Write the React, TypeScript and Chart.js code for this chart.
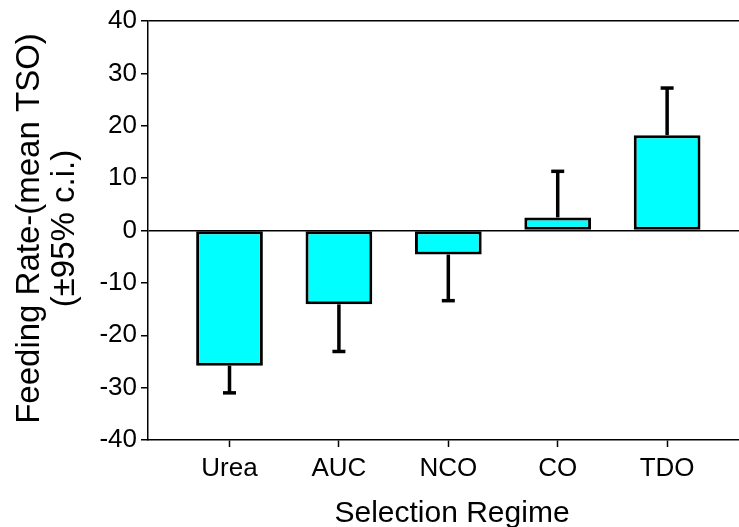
import React, { useEffect, useRef } from "react";
import { Chart, registerables } from "chart.js";

Chart.register(...registerables);

const categories = ["Urea", "AUC", "NCO", "CO", "TDO"];
const meanValues = [-25.8, -14.1, -4.6, 2.5, 18.2];
const ciEnds = [-31.0, -23.1, -13.4, 11.3, 27.2];
const yMin = -40;
const yMax = 40;
const yStep = 10;
const xTitle = "Selection Regime";
const yTitleLines = ["Feeding Rate-(mean TSO)", "(\u00b195% c.i.)"];

const FONT = '"Liberation Sans", Arial, sans-serif';

const errorBarPlugin = {
  id: "errorBars",
  afterDatasetsDraw(chart: any) {
    const meta = chart.getDatasetMeta(0);
    const ys = chart.scales.y;
    const ctx = chart.ctx;
    ctx.save();
    ctx.strokeStyle = "#000";
    ctx.lineWidth = 3.5;
    ctx.lineCap = "butt";
    meta.data.forEach((el: any, i: number) => {
      const x = el.x;
      const y0 = ys.getPixelForValue(meanValues[i]);
      const y1 = ys.getPixelForValue(ciEnds[i]);
      ctx.beginPath();
      ctx.moveTo(x, y0);
      ctx.lineTo(x, y1);
      ctx.stroke();
      ctx.beginPath();
      ctx.moveTo(x - 6.5, y1);
      ctx.lineTo(x + 6.5, y1);
      ctx.stroke();
    });
    ctx.restore();
  },
};

const titlesPlugin = {
  id: "titles",
  afterDraw(chart: any) {
    const ctx = chart.ctx;
    ctx.save();
    ctx.fillStyle = "#000";
    ctx.font = `30px ${FONT}`;
    ctx.textAlign = "center";
    ctx.textBaseline = "alphabetic";
    ctx.fillText(xTitle, 452, 522);
    const cy = (chart.chartArea.top + chart.chartArea.bottom) / 2;
    ctx.font = `33px ${FONT}`;
    const baselines = [39, 74];
    yTitleLines.forEach((t, i) => {
      ctx.save();
      ctx.translate(baselines[i], cy - 2);
      ctx.rotate(-Math.PI / 2);
      ctx.fillText(t, 0, 0);
      ctx.restore();
    });
    ctx.restore();
  },
};

export default function App() {
  const ref = useRef<HTMLCanvasElement | null>(null);
  useEffect(() => {
    if (!ref.current) return;
    const chart = new Chart(ref.current, {
      type: "bar",
      data: {
        datasets: [
          {
            data: meanValues.map((v, i) => ({ x: i + 1, y: v })),
            backgroundColor: "#00FFFF",
            borderColor: "#000",
            borderWidth: 3,
            borderSkipped: false,
            barPercentage: 0.61,
            categoryPercentage: 1,
          },
        ],
      },
      options: {
        animation: false,
        responsive: false,
        layout: { padding: { top: 21, right: 0, left: 0, bottom: 0 } },
        plugins: { legend: { display: false }, tooltip: { enabled: false } },
        scales: {
          x: {
            type: "linear",
            offset: false,
            min: 0.255,
            max: 5.657,
            afterBuildTicks: (scale: any) => {
              scale.ticks = categories.map((_, i) => ({ value: i + 1 }));
            },
            afterFit: (scale: any) => {
              scale.height = 87;
            },
            ticks: {
              autoSkip: false,
              maxRotation: 0,
              color: "#000",
              font: { family: FONT, size: 26 },
              padding: 6,
              callback: (v: any) => categories[Math.round(v) - 1] ?? "",
            },
            grid: {
              offset: false,
              drawOnChartArea: false,
              drawTicks: true,
              tickLength: 7,
              tickColor: "#000",
              tickWidth: 1.5,
            },
            border: { display: true, color: "#000", width: 1.5 },
          },
          y: {
            min: yMin,
            max: yMax,
            afterFit: (scale: any) => {
              scale.width = 148;
            },
            ticks: {
              stepSize: yStep,
              color: "#000",
              font: { family: FONT, size: 26 },
              padding: 4,
            },
            grid: {
              drawOnChartArea: true,
              drawTicks: true,
              tickLength: 7,
              color: (c: any) =>
                c.tick && (c.tick.value === 0 || c.tick.value === yMax)
                  ? "#000"
                  : "rgba(0,0,0,0)",
              lineWidth: 1.5,
              tickColor: "#000",
              tickWidth: 1.5,
            },
            border: { display: true, color: "#000", width: 1.5 },
          },
        },
      },
      plugins: [errorBarPlugin, titlesPlugin],
    } as any);
    return () => chart.destroy();
  }, []);
  return (
    <div style={{ position: "fixed", left: 0, top: 0, width: 739, height: 527, background: "#fff" }}>
      <canvas ref={ref} width={739} height={527} />
    </div>
  );
}
